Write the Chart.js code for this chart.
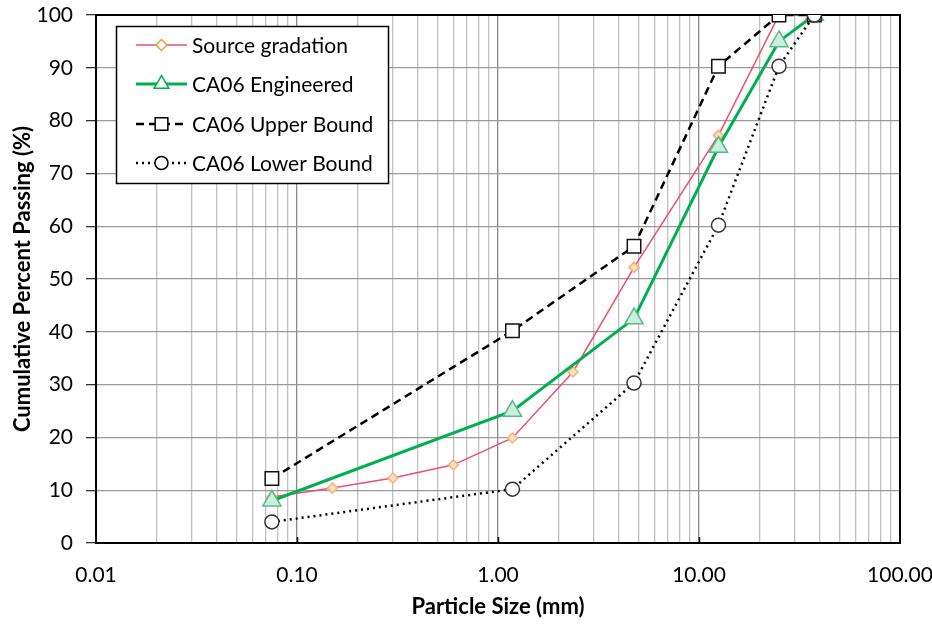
<!DOCTYPE html>
<html>
<head>
<meta charset="utf-8">
<script src="https://cdn.jsdelivr.net/npm/chart.js@4/dist/chart.umd.min.js"></script>
<style>
  html, body { margin: 0; padding: 0; background: #fff; }
  #wrap { width: 932px; height: 624px; position: relative; }
</style>
</head>
<body>
<div id="wrap"><canvas id="c" width="932" height="624"></canvas></div>
<script>
// ---- data ----
const sieveSource = [0.075, 0.15, 0.3, 0.6, 1.18, 2.36, 4.75, 12.5, 25, 37.5];
const sourcePassing = [8.7, 10.4, 12.3, 14.8, 19.9, 32.4, 52.2, 77.2, 100, 100];
const sieveSpec = [0.075, 1.18, 4.75, 12.5, 25, 37.5];
const engineeredPassing = [8, 25, 42.5, 75, 95, 100];
const upperBound = [12.2, 40.2, 56.2, 90.3, 100, 100];
const lowerBound = [4, 10.2, 30.3, 60.2, 90.3, 100];
const seriesNames = ['Source gradation', 'CA06 Engineered', 'CA06 Upper Bound', 'CA06 Lower Bound'];
const xTickLabels = ['0.01', '0.10', '1.00', '10.00', '100.00'];
const yTicks = [0, 10, 20, 30, 40, 50, 60, 70, 80, 90, 100];
const xTitle = 'Particle Size (mm)';
const yTitle = 'Cumulative Percent Passing (%)';

const pts = (xs, ys) => xs.map((x, i) => ({ x: x, y: ys[i] }));
const FONT = 'Lato, "Open Sans", sans-serif';

const styles = [
  { color: '#ee4f6c', width: 1.5, dash: [], marker: 'rectRot', r: 5, fill: '#fde2c6', border: '#f5b27c', lfill: '#ffffff', lborder: '#f79646', lr: 5.5 },
  { color: '#00b050', width: 3, dash: [], marker: 'triangle', r: 10.5, fill: '#c9f0dc', border: '#5cb88a', lfill: '#ffffff', lborder: '#00b050', lr: 8.5 },
  { color: '#000000', width: 2.5, dash: [8, 5], marker: 'rect', r: 9.5, fill: '#ffffff', border: '#111111', lfill: '#ffffff', lborder: '#000000', lr: 9 },
  { color: '#000000', width: 2.5, dash: [2, 4], marker: 'circle', r: 7, fill: '#ffffff', border: '#333333', lfill: '#ffffff', lborder: '#000000', lr: 6.5 }
];

const dataSets = [pts(sieveSource, sourcePassing), pts(sieveSpec, engineeredPassing), pts(sieveSpec, upperBound), pts(sieveSpec, lowerBound)];

const datasets = dataSets.map((d, i) => ({
  label: seriesNames[i],
  data: d,
  borderColor: styles[i].color,
  borderWidth: styles[i].width,
  borderDash: styles[i].dash,
  pointStyle: styles[i].marker,
  pointRadius: styles[i].r,
  pointBackgroundColor: styles[i].fill,
  pointBorderColor: styles[i].border,
  pointBorderWidth: 1.5,
  pointHoverRadius: styles[i].r,
  showLine: true,
  fill: false,
  tension: 0,
  order: 4 - i
}));

// all log ticks 1..9 x 10^k
function logTicks(min, max) {
  const t = [];
  for (let e = Math.log10(min); e < Math.log10(max); e++) {
    for (let m = 1; m <= 9; m++) t.push({ value: m * Math.pow(10, e) });
  }
  t.push({ value: max });
  return t;
}
function isMajor(v) {
  const l = Math.log10(v);
  return Math.abs(l - Math.round(l)) < 1e-9;
}
function majorLabel(v) {
  const l = Math.round(Math.log10(v));
  return xTickLabels[l + 2];
}

const frame = {
  id: 'frame',
  beforeDatasetsDraw(chart) {
    const { ctx, chartArea: a, scales } = chart;
    ctx.save();
    ctx.strokeStyle = '#000';
    ctx.lineWidth = 1.5;
    [0.1, 1, 10].forEach(v => {
      const px = Math.round(scales.x.getPixelForValue(v)) + 0.5;
      ctx.beginPath();
      ctx.moveTo(px, a.bottom);
      ctx.lineTo(px, a.bottom - 6);
      ctx.stroke();
    });
    ctx.lineWidth = 2;
    ctx.strokeRect(a.left, a.top, a.right - a.left, a.bottom - a.top);
    ctx.restore();
  },
  afterDraw(chart) {
    const ctx = chart.ctx;
    ctx.save();
    const bx = 116, by = 26, bw = 272, bh = 157;
    ctx.fillStyle = '#fff';
    ctx.fillRect(bx, by, bw, bh);
    ctx.strokeStyle = '#000';
    ctx.lineWidth = 1.5;
    ctx.strokeRect(bx + 0.5, by + 0.5, bw, bh);
    const rows = [45, 84, 124, 163];
    rows.forEach((ry, i) => {
      const s = styles[i];
      ctx.save();
      ctx.strokeStyle = s.color;
      ctx.lineWidth = s.width;
      ctx.setLineDash(s.dash);
      ctx.beginPath();
      ctx.moveTo(136, ry);
      ctx.lineTo(187, ry);
      ctx.stroke();
      ctx.restore();
      ctx.save();
      ctx.fillStyle = s.lfill;
      ctx.strokeStyle = s.lborder;
      ctx.lineWidth = 1.5;
      ctx.setLineDash([]);
      Chart.helpers.drawPoint(ctx, { pointStyle: s.marker, rotation: 0, borderWidth: 1.5, radius: s.lr }, 161.5, ry);
      ctx.restore();
      ctx.fillStyle = '#000';
      ctx.font = '21px ' + FONT;
      ctx.textBaseline = 'middle';
      ctx.textAlign = 'left';
      ctx.fillText(seriesNames[i], 192, ry + 1);
    });
    ctx.restore();
  }
};

new Chart(document.getElementById('c'), {
  type: 'scatter',
  data: { datasets: datasets },
  options: {
    responsive: false,
    animation: false,
    devicePixelRatio: 1,
    layout: { padding: { left: 0, right: 32, top: 15, bottom: 0 } },
    plugins: { legend: { display: false }, tooltip: { enabled: false } },
    scales: {
      x: {
        type: 'logarithmic',
        min: 0.01,
        max: 100,
        afterBuildTicks(scale) { scale.ticks = logTicks(0.01, 100); },
        afterFit(scale) { scale.height = 81; scale.paddingLeft = 0; scale.paddingRight = 0; },
        ticks: {
          autoSkip: false,
          maxRotation: 0,
          padding: 20,
          color: '#000',
          font: { family: FONT, size: 21 },
          callback: (v) => isMajor(v) ? majorLabel(v) : ''
        },
        grid: {
          drawTicks: false,
          color: (c) => (c.tick && isMajor(c.tick.value)) ? '#8a8a8a' : '#c0c0c0',
          lineWidth: 1.3
        },
        border: { color: '#000', width: 2 },
        title: {
          display: true,
          text: xTitle,
          color: '#000',
          font: { family: FONT, size: 22, weight: 'bold' },
          padding: { top: 0, bottom: 4 }
        }
      },
      y: {
        min: 0,
        max: 100,
        afterBuildTicks(scale) { scale.ticks = yTicks.map(v => ({ value: v })); },
        afterFit(scale) { scale.width = 96; scale.paddingTop = 0; scale.paddingBottom = 0; },
        ticks: {
          padding: 13,
          color: '#000',
          font: { family: FONT, size: 21 }
        },
        grid: {
          color: '#9a9a9a',
          lineWidth: 1.3,
          drawTicks: true,
          tickLength: 10,
          tickColor: '#333'
        },
        border: { color: '#000', width: 2 },
        title: {
          display: true,
          text: yTitle,
          color: '#000',
          font: { family: FONT, size: 22, weight: 'bold' },
          padding: { top: 10, bottom: 0 }
        }
      }
    }
  },
  plugins: [frame]
});
</script>
</body>
</html>
